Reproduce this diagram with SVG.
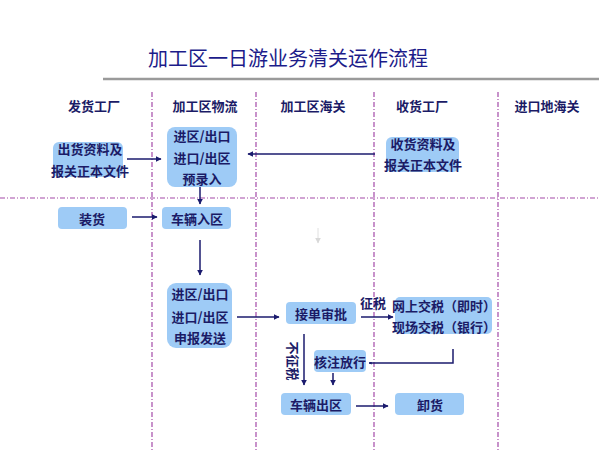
<svg xmlns="http://www.w3.org/2000/svg" width="599" height="451" viewBox="0 0 599 451">
<style>
text{font-family:"Noto Sans CJK SC","Liberation Sans",sans-serif;font-weight:bold;fill:#1b1b66;text-anchor:middle;dominant-baseline:central}
.hd{font-size:13px}
.t{font-size:13px}
.title{font-size:20px;font-weight:normal;fill:#1c1c8a}
.box{fill:#9ecbf6}
.lane{stroke:#a34aa8;stroke-width:1.2;stroke-dasharray:5 2 1 2;fill:none}
.ar{stroke:#1b1b6e;stroke-width:1.5;fill:none;marker-end:url(#ah)}
.ln{stroke:#1b1b6e;stroke-width:1.5;fill:none}
</style>
<defs>
<marker id="ah" viewBox="0 0 10 10" refX="9" refY="5" markerWidth="6" markerHeight="6" markerUnits="userSpaceOnUse" orient="auto">
<path d="M0,0 L10,5 L0,10 z" fill="#1b1b6e"/>
</marker>
<marker id="ahs" viewBox="0 0 10 10" refX="9" refY="5" markerWidth="3" markerHeight="3" markerUnits="userSpaceOnUse" orient="auto">
<path d="M0,0 L10,5 L0,10 z" fill="#1b1b6e"/>
</marker>
<marker id="ahg" viewBox="0 0 10 10" refX="9" refY="5" markerWidth="6" markerHeight="6" markerUnits="userSpaceOnUse" orient="auto">
<path d="M0,0 L10,5 L0,10 z" fill="#d8d8d8"/>
</marker>
</defs>
<rect width="599" height="451" fill="#ffffff"/>
<text class="title" x="288" y="57">加工区一日游业务清关运作流程</text>
<line x1="103" y1="79" x2="599" y2="79" stroke="#9a9a9a" stroke-width="2.5"/>
<g id="lanes">
<line class="lane" x1="152" y1="92" x2="152" y2="451"/>
<line class="lane" x1="256" y1="92" x2="256" y2="451"/>
<line class="lane" x1="374" y1="92" x2="374" y2="451"/>
<line class="lane" x1="498" y1="92" x2="498" y2="451"/>
<line class="lane" x1="0" y1="198" x2="599" y2="198"/>
</g>
<g id="headers">
<text class="hd" x="94" y="105">发货工厂</text>
<text class="hd" x="205" y="105">加工区物流</text>
<text class="hd" x="313" y="105">加工区海关</text>
<text class="hd" x="422" y="105">收货工厂</text>
<text class="hd" x="547" y="105">进口地海关</text>
</g>
<g id="connectors">
<line class="ar" x1="127" y1="159" x2="161" y2="159"/>
<line class="ar" x1="375" y1="154" x2="248" y2="154"/>
<line class="ar" x1="200" y1="187" x2="200" y2="204"/>
<line class="ar" x1="132" y1="217" x2="157" y2="217"/>
<line class="ar" x1="200" y1="240" x2="200" y2="275"/>
<line class="ar" x1="237" y1="317" x2="279" y2="317"/>
<line class="ar" x1="361" y1="317" x2="393" y2="317"/>
<polyline class="ln" points="453,349 453,363 369,363" marker-end="url(#ahs)"/>
<line class="ar" x1="304" y1="334" x2="304" y2="385"/>
<line class="ar" x1="333" y1="373" x2="333" y2="385"/>
<line class="ar" x1="356" y1="406" x2="388" y2="406"/>
<line x1="318" y1="228" x2="318" y2="243" stroke="#e0e0e0" stroke-width="1" marker-end="url(#ahg)"/>
<text class="t" x="373" y="302">征税</text>
<text class="t" x="293" y="361" transform="rotate(90 293 361)">不征税</text>
</g>
<g id="n1"><rect class="box" x="53" y="142" width="70" height="35" rx="6"/><text class="t" x="90" y="148">出货资料及</text><text class="t" x="90" y="170">报关正本文件</text></g>
<g id="n2"><rect class="box" x="167" y="127" width="70" height="60" rx="8"/><text class="t" x="202" y="135">进区/出口</text><text class="t" x="202" y="157">进口/出区</text><text class="t" x="202" y="178">预录入</text></g>
<g id="n3"><rect class="box" x="386" y="137" width="73" height="35" rx="6"/><text class="t" x="423" y="143">收货资料及</text><text class="t" x="423" y="164">报关正本文件</text></g>
<g id="n4"><rect class="box" x="58" y="207" width="69" height="22" rx="4"/><text class="t" x="92" y="218">装货</text></g>
<g id="n5"><rect class="box" x="162" y="207" width="69" height="22" rx="4"/><text class="t" x="197" y="218">车辆入区</text></g>
<g id="n6"><rect class="box" x="167" y="283" width="65" height="65" rx="9"/><text class="t" x="200" y="293">进区/出口</text><text class="t" x="200" y="316">进口/出区</text><text class="t" x="200" y="337">申报发送</text></g>
<g id="n7"><rect class="box" x="286" y="302" width="70" height="22" rx="4"/><text class="t" x="321" y="313">接单审批</text></g>
<g id="n8"><rect class="box" x="395" y="297" width="97" height="37" rx="5"/><text class="t" x="444" y="305">网上交税（即时）</text><text class="t" x="444" y="326">现场交税（银行）</text></g>
<g id="n9"><rect class="box" x="314" y="350" width="52" height="22" rx="4"/><text class="t" x="340" y="361">核注放行</text></g>
<g id="n10"><rect class="box" x="281" y="393" width="70" height="22" rx="4"/><text class="t" x="316" y="404">车辆出区</text></g>
<g id="n11"><rect class="box" x="395" y="393" width="69" height="22" rx="4"/><text class="t" x="430" y="404">卸货</text></g>
</svg>
